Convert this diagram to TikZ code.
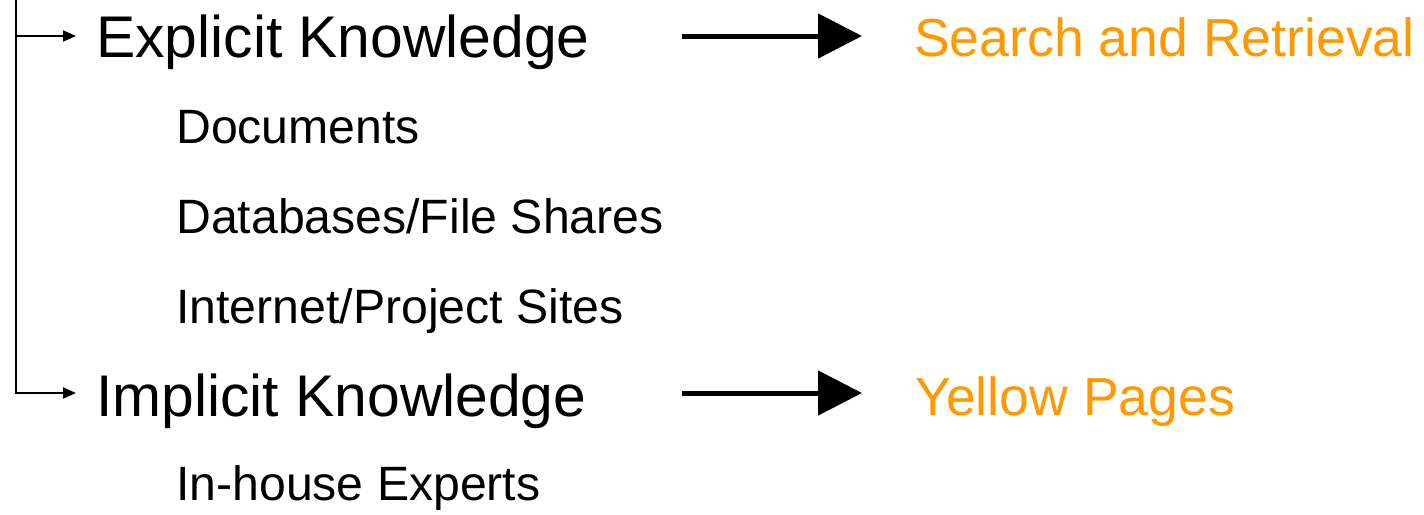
\documentclass[tikz,border=0pt]{standalone}
\usepackage{fontspec}
\setmainfont{Liberation Sans}
\usetikzlibrary{arrows.meta}
\definecolor{hiorange}{HTML}{FF9900}
\tikzset{
  heading/.style={anchor=base west, inner sep=0pt, font=\fontsize{58.8}{62}\selectfont},
  item/.style={anchor=base west, inner sep=0pt, font=\fontsize{48.2}{51}\selectfont},
  target/.style={anchor=base west, inner sep=0pt, text=hiorange, font=\fontsize{53.6}{56}\selectfont},
  branch/.style={line width=2pt, -{Triangle[length=13pt,width=11pt]}},
  leadsto/.style={line width=5pt, -{Triangle[length=44pt,width=44pt]}}
}
\begin{document}
\begin{tikzpicture}[x=1pt,y=-1pt]
  \useasboundingbox (0,0) rectangle (1424,514);

  % headings
  \node[heading] (explicit) at (96,57) {Explicit Knowledge};
  \node[heading] (implicit) at (96,416) {Implicit Knowledge};

  % sources
  \node[item] (docs) at (176,143) {Documents};
  \node[item] (dbs)  at (176,233) {Databases/File Shares};
  \node[item] (web)  at (176,323) {Internet/Project Sites};
  \node[item] (experts) at (176,500) {In-house Experts};

  % outcomes
  \node[target] (search) at (914,56) {Search and Retrieval};
  \node[target] (yellow) at (915,415) {Yellow Pages};

  % tree trunk and branches
  \coordinate (top) at (16,0);
  \coordinate (fork) at (16,36);
  \coordinate (tipA) at (76,36);
  \coordinate (tipB) at (76,393);
  \draw[branch] (top) |- (tipB);
  \draw[branch] (fork) -- (tipA);

  % arrows to outcomes
  \coordinate (fromA) at (682,36);
  \coordinate (toA) at (862,36);
  \coordinate (fromB) at (682,393);
  \coordinate (toB) at (862,393);
  \draw[leadsto] (fromA) -- (toA);
  \draw[leadsto] (fromB) -- (toB);
\end{tikzpicture}
\end{document}
